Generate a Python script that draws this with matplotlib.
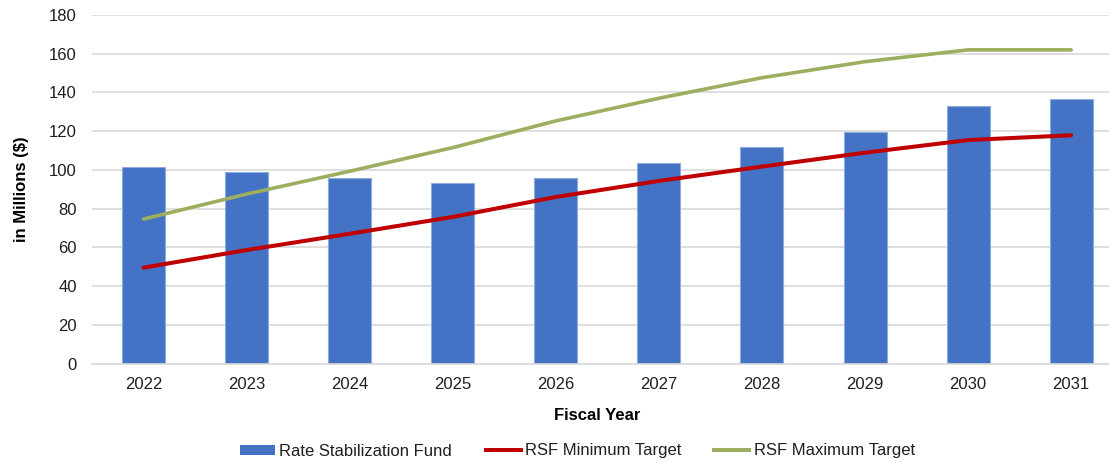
import matplotlib
matplotlib.use("Agg")
import matplotlib.pyplot as plt
from matplotlib.patches import Patch
from matplotlib.lines import Line2D
import numpy as np

years = ["2022", "2023", "2024", "2025", "2026", "2027", "2028", "2029", "2030", "2031"]
rsf_fund = [101.5, 98.8, 96.0, 93.3, 96.0, 103.8, 111.8, 119.7, 133.2, 136.8]
rsf_min = [49.5, 58.6, 67.0, 75.7, 86.0, 94.3, 101.7, 108.9, 115.4, 117.9]
rsf_max = [74.6, 87.5, 99.3, 111.5, 125.3, 137.0, 147.6, 155.9, 162.0, 162.0]
yticks = [0, 20, 40, 60, 80, 100, 120, 140, 160, 180]

plt.rcParams['font.family'] = ['Liberation Sans', 'DejaVu Sans']

W, H = 1109, 462
fig = plt.figure(figsize=(W / 100, H / 100), dpi=100)
left, right = 92, 1122.7
top, bottom = 15, 363.5
ax = fig.add_axes([left / W, (H - bottom) / H, (right - left) / W, (bottom - top) / H])

x = np.arange(len(years))
bar_color = "#4472C4"
red = "#C00000"
green = "#9BAF5E"
text_color = "#1F1F1F"

ax.bar(x, rsf_fund, width=0.417, color=bar_color, edgecolor="#8FAADC", linewidth=0.8, zorder=2)
ax.plot(x, rsf_min, color=red, lw=2.9, solid_capstyle="round", zorder=3)
ax.plot(x, rsf_max, color=green, lw=2.6, solid_capstyle="round", zorder=3)

ax.set_xlim(-0.5, len(years) - 0.5)
ax.set_ylim(0, 180)
ax.set_yticks(yticks)
ax.set_yticklabels([str(v) for v in yticks])
ax.set_xticks(x)
ax.set_xticklabels(years)
ax.grid(axis="y", color="#D9D9D9", lw=1.2, zorder=0)
ax.set_axisbelow(True)
for s in ["top", "right", "left"]:
    ax.spines[s].set_visible(False)
ax.spines["bottom"].set_color("#D9D9D9")
ax.spines["bottom"].set_linewidth(1.2)
ax.tick_params(axis="both", length=0, labelsize=12, colors=text_color)
ax.tick_params(axis="y", pad=11)
ax.tick_params(axis="x", pad=9.5)

ax.set_ylabel("in Millions ($)", fontsize=12, fontweight="bold", color="black")
ax.yaxis.set_label_coords((29 - left) / (right - left), 0.5)

fig.text(597.5 / W, (H - 416) / H, "Fiscal Year", fontsize=12, fontweight="bold",
         ha="center", va="center", color="black")

handles = [
    Patch(facecolor=bar_color, edgecolor="none"),
    Line2D([0], [0], color=red, lw=2.9),
    Line2D([0], [0], color=green, lw=2.9),
]
labels = ["Rate Stabilization Fund", "RSF Minimum Target", "RSF Maximum Target"]
leg = fig.legend(handles, labels, loc="center", bbox_to_anchor=(577.5 / W, (H - 451) / H),
                 ncol=3, frameon=False, fontsize=12, handlelength=2.1, handleheight=0.55,
                 handletextpad=0.25, columnspacing=2.0)
for t in leg.get_texts():
    t.set_color(text_color)

fig.savefig("out.png", dpi=100)
